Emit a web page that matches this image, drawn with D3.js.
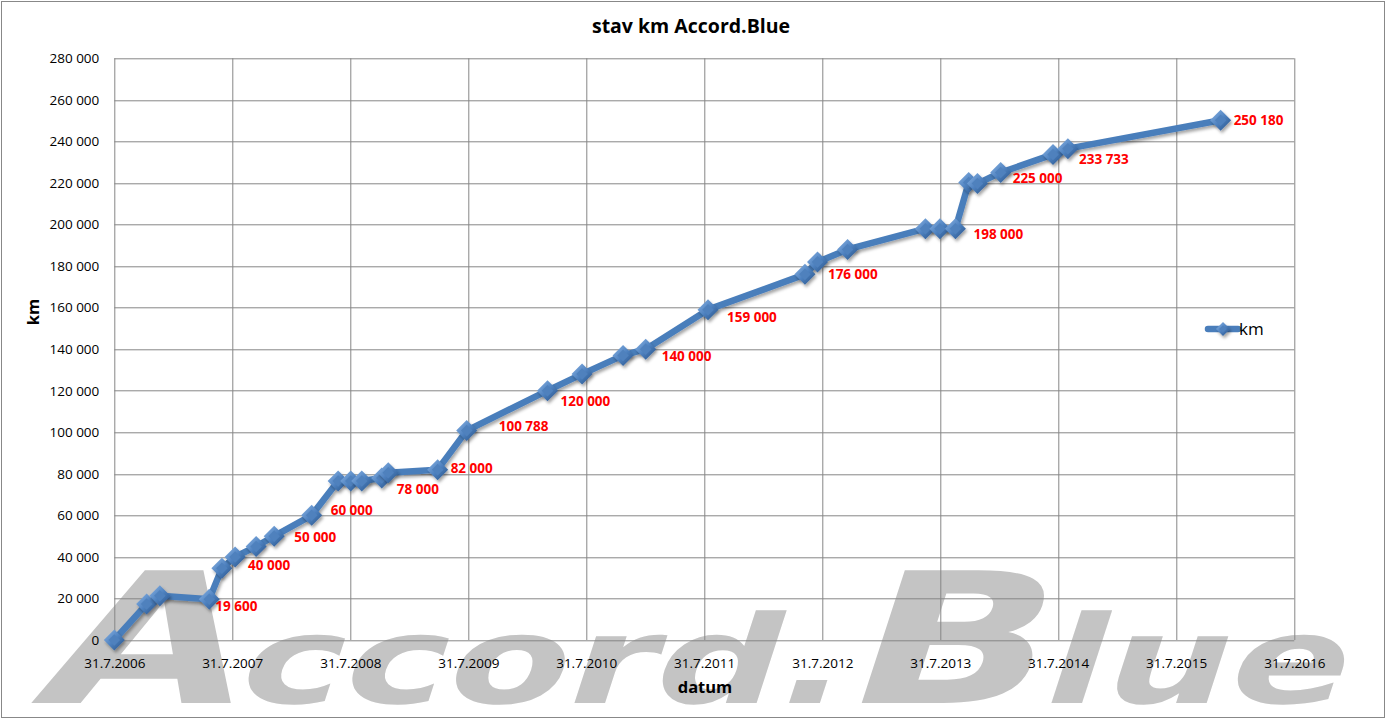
<!DOCTYPE html>
<html>
<head>
<meta charset="utf-8">
<script src="https://cdn.jsdelivr.net/npm/d3@7"></script>
<style>
  body { margin: 0; background: #fff; }
  svg { display: block; }
</style>
</head>
<body>
<svg id="chart"></svg>
<script>
// readings of the odometer (datum, km)
var dates = ["2006-07-31", "2006-11-08", "2006-12-19", "2007-05-21", "2007-06-29",
             "2007-08-09", "2007-10-13", "2007-12-08", "2008-04-02", "2008-06-23",
             "2008-08-01", "2008-09-04", "2008-11-05", "2008-11-25", "2009-04-27",
             "2009-07-26", "2010-04-02", "2010-07-18", "2010-11-22", "2011-01-31",
             "2011-08-12", "2012-06-07", "2012-07-16", "2012-10-17", "2013-06-15",
             "2013-07-30", "2013-09-16", "2013-10-27", "2013-11-23", "2014-02-03",
             "2014-07-15", "2014-08-30", "2015-12-16"]
var km = [0, 17300, 21300, 19600, 34500,
          40000, 45000, 50000, 60000, 76500,
          76500, 76500, 78000, 80500, 82000,
          100788, 120000, 128000, 137000, 140000,
          159000, 176000, 182000, 188000, 198000,
          198000, 198000, 220200, 219700, 225000,
          233733, 236500, 250180]

// points that carry a red value label
var labelIdx = [3, 5, 7, 8, 12, 14, 15, 16, 19, 20, 21, 26, 29, 30, 32]

// axis ticks
var tickYears = [2006, 2007, 2008, 2009, 2010, 2011, 2012, 2013, 2014, 2015, 2016]
var yTicks = [0, 20000, 40000, 60000, 80000, 100000, 120000, 140000,
              160000, 180000, 200000, 220000, 240000, 260000, 280000]

var W = 1386, H = 719
var margin = {top: 58.3, right: 91.7, bottom: 79, left: 114.3}
var width = W - margin.left - margin.right,
    height = H - margin.top - margin.bottom

var parse = d3.timeParse("%Y-%m-%d")
var data = dates.map(function(d, i) { return {date: parse(d), km: km[i]} })

var cz = d3.formatLocale({decimal: ",", thousands: "\u00a0", grouping: [3], currency: ["", ""]})
var fmt = cz.format(",")

var svg = d3.select("#chart").attr("width", W).attr("height", H)

var defs = svg.append("defs")
var grad = defs.append("linearGradient").attr("id", "mk")
  .attr("x1", "0").attr("y1", "0").attr("x2", "1").attr("y2", "1")
grad.append("stop").attr("offset", "0%").attr("stop-color", "#8db6e6")
grad.append("stop").attr("offset", "50%").attr("stop-color", "#4f82c0")
grad.append("stop").attr("offset", "100%").attr("stop-color", "#234f86")
var sh = defs.append("filter").attr("id", "shadow")
  .attr("x", "-30%").attr("y", "-30%").attr("width", "160%").attr("height", "160%")
sh.append("feDropShadow").attr("dx", 1.5).attr("dy", 2.5).attr("stdDeviation", 1.6)
  .attr("flood-color", "#000").attr("flood-opacity", 0.35)

svg.append("rect").attr("width", W).attr("height", H).attr("fill", "#fff")

// watermark behind the chart: big capitals, small lowercase
var wm = svg.append("g")
  .attr("transform", "translate(30,703) skewX(-18)")
  .append("text")
  .attr("x", 0).attr("y", 0)
  .attr("textLength", 1310)
  .attr("lengthAdjust", "spacingAndGlyphs")
  .style("font-family", "'DejaVu Sans'")
  .style("font-weight", "bold")
  .attr("fill", "#c4c4c4")
var wmParts = [["A", 182], ["ccord.", 122], ["B", 182], ["lue", 122]]
wmParts.forEach(function(p) {
  wm.append("tspan").style("font-size", p[1] + "px").text(p[0])
})

var g = svg.append("g")
  .attr("transform", "translate(" + margin.left + "," + margin.top + ")")

var x = d3.scaleTime()
  .domain([new Date(tickYears[0], 6, 31), new Date(tickYears[tickYears.length - 1], 6, 31)])
  .range([0, width])

var y = d3.scaleLinear()
  .domain([0, yTicks[yTicks.length - 1]])
  .range([height, 0])

var xTickDates = tickYears.map(function(yr) { return new Date(yr, 6, 31) })

// grid
g.append("g")
  .selectAll("line.h")
  .data(yTicks)
  .enter().append("line")
  .attr("x1", 0).attr("x2", width)
  .attr("y1", function(d) { return Math.round(y(d)) + 0.5 })
  .attr("y2", function(d) { return Math.round(y(d)) + 0.5 })
  .attr("stroke", "#868686").attr("stroke-width", 1)

g.append("g")
  .selectAll("line.v")
  .data(xTickDates)
  .enter().append("line")
  .attr("x1", function(d) { return Math.round(x(d)) + 0.5 })
  .attr("x2", function(d) { return Math.round(x(d)) + 0.5 })
  .attr("y1", 0).attr("y2", height)
  .attr("stroke", "#868686").attr("stroke-width", 1)

// axes
var xAxis = g.append("g")
  .attr("transform", "translate(0," + height + ")")
  .call(d3.axisBottom(x).tickValues(xTickDates).tickSize(0).tickPadding(18)
        .tickFormat(d3.timeFormat("%-d.%-m.%Y")))
xAxis.select(".domain").remove()
xAxis.selectAll("text")
  .style("font-family", "'Open Sans'").style("font-size", "13.5px").attr("fill", "#000")

var yAxis = g.append("g")
  .call(d3.axisLeft(y).tickValues(yTicks).tickSize(0).tickPadding(15).tickFormat(fmt))
yAxis.select(".domain").remove()
yAxis.selectAll("text")
  .style("font-family", "'Open Sans'").style("font-size", "13.5px").attr("fill", "#000")

// series line
var line = d3.line()
  .x(function(d) { return x(d.date) })
  .y(function(d) { return y(d.km) })

g.append("path")
  .datum(data)
  .attr("d", line)
  .attr("fill", "none")
  .attr("stroke", "#4a7ebb")
  .attr("stroke-width", 6.5)
  .attr("stroke-linejoin", "round")
  .attr("stroke-linecap", "round")
  .attr("filter", "url(#shadow)")

function diamond(sel, r) {
  sel.append("path")
    .attr("d", "M0," + (-r) + "L" + r + ",0L0," + r + "L" + (-r) + ",0Z")
    .attr("fill", "url(#mk)")
    .attr("filter", "url(#shadow)")
  sel.append("path")
    .attr("d", "M0," + (-r * 0.55) + "L" + (r * 0.55) + ",0L0," + (r * 0.55) + "L" + (-r * 0.55) + ",0Z")
    .attr("fill", "#4f81bd")
}

g.append("g")
  .selectAll("g.mk")
  .data(data)
  .enter().append("g")
  .attr("class", "mk")
  .attr("transform", function(d) { return "translate(" + x(d.date) + "," + y(d.km) + ")" })
  .each(function() { diamond(d3.select(this), 10.5) })

// value labels, nudged like in the original sheet
var labelNudge = {3: [6, 7], 5: [13, 8], 7: [20, 1], 8: [19, -5], 12: [15, 11],
                  14: [13, -1], 15: [32, -4], 16: [13, 11], 19: [16, 7], 20: [19, 8],
                  21: [23, 0], 26: [18, 6], 29: [12, 6], 30: [26, 5], 32: [13, 0]}

g.append("g")
  .selectAll("text")
  .data(labelIdx)
  .enter().append("text")
  .attr("x", function(i) { return x(data[i].date) + labelNudge[i][0] })
  .attr("y", function(i) { return y(data[i].km) + labelNudge[i][1] })
  .attr("dy", "0.35em")
  .attr("fill", "#ff0000")
  .style("font-family", "'Open Sans'")
  .style("font-weight", "bold")
  .style("font-size", "13.5px")
  .text(function(i) { return fmt(data[i].km) })

// legend
var leg = svg.append("g").attr("transform", "translate(1208,329)")
leg.append("line").attr("x1", 0).attr("x2", 30).attr("y1", 0).attr("y2", 0)
  .attr("stroke", "#4a7ebb").attr("stroke-width", 6.5).attr("stroke-linecap", "round")
leg.append("g").attr("transform", "translate(15,0)").call(diamond, 7)
leg.append("text").attr("x", 31).attr("y", 6)
  .style("font-family", "'Open Sans'").style("font-size", "17px").attr("fill", "#000")
  .text("km")

// titles
svg.append("text")
  .attr("x", 691).attr("y", 33)
  .attr("text-anchor", "middle")
  .style("font-family", "'Open Sans'").style("font-weight", "bold").style("font-size", "19.5px")
  .text("stav km Accord.Blue")

svg.append("text")
  .attr("x", 705).attr("y", 693)
  .attr("text-anchor", "middle")
  .style("font-family", "'Open Sans'").style("font-weight", "bold").style("font-size", "16.5px")
  .text("datum")

svg.append("text")
  .attr("transform", "translate(39,312) rotate(-90)")
  .attr("text-anchor", "middle")
  .style("font-family", "'Open Sans'").style("font-weight", "bold").style("font-size", "16.5px")
  .text("km")

// outer border
svg.append("rect")
  .attr("x", 1.5).attr("y", 1.5).attr("width", W - 3).attr("height", H - 3)
  .attr("fill", "none").attr("stroke", "#888").attr("stroke-width", 1)
</script>
</body>
</html>
